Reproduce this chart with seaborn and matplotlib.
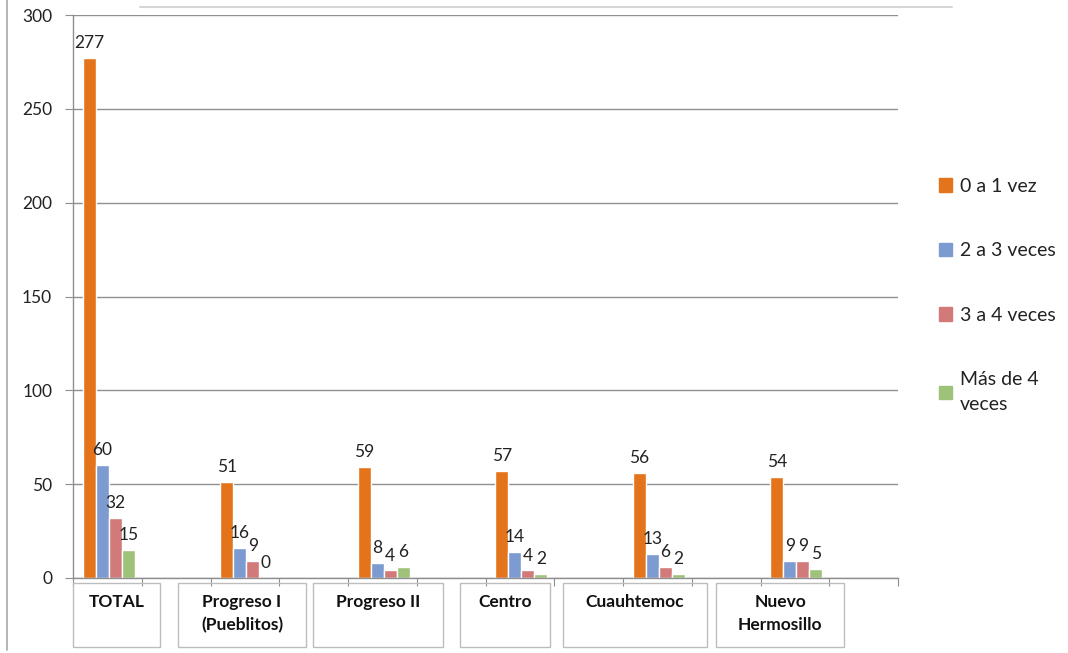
import numpy as np
import pandas as pd
import seaborn as sns
from matplotlib import pyplot as plt
from matplotlib.patches import Rectangle
from matplotlib.lines import Line2D

categories = ["TOTAL", "Progreso I\n(Pueblitos)", "Progreso II", "Centro",
              "Cuauhtemoc", "Nuevo\nHermosillo"]
series = ["0 a 1 vez", "2 a 3 veces", "3 a 4 veces", "Más de 4\nveces"]
v_0a1 = [277, 51, 59, 57, 56, 54]
v_2a3 = [60, 16, 8, 14, 13, 9]
v_3a4 = [32, 9, 4, 4, 6, 9]
v_mas4 = [15, 0, 6, 2, 2, 5]
colors = ["#E3741C", "#7C9BD0", "#D27A7A", "#9FC27A"]

rows = []
for s, vals in zip(series, [v_0a1, v_2a3, v_3a4, v_mas4]):
    for c, v in zip(categories, vals):
        rows.append({"cat": c, "serie": s, "valor": v})
df = pd.DataFrame(rows)

sns.set_style("white")
plt.rcParams['font.family'] = ['Lato', 'DejaVu Sans']

W, H = 1068, 653
fig = plt.figure(figsize=(W / 100, H / 100), dpi=100)
ax = fig.add_axes([73 / W, 1 - 578 / H, (898 - 73) / W, (578 - 15) / H])

sns.barplot(data=df, x="cat", y="valor", hue="serie", order=categories,
            hue_order=series, palette=colors, width=0.38, saturation=1,
            ax=ax, legend=False)

for cont in ax.containers:
    ax.bar_label(cont, fontsize=12.5, padding=5, color="#222222")

ax.set_ylim(0, 300)
ax.set_yticks(range(0, 301, 50))
ax.set_xlim(-0.26, 5.74)
ax.set_xticks(np.arange(-0.26, 5.75, 0.5))
ax.set_xticklabels([])
ax.yaxis.grid(True, color="#8f8f8f", lw=1)
ax.set_axisbelow(True)
ax.tick_params(axis="y", labelsize=12.5, length=6, color="#8f8f8f",
               left=True, pad=9, labelcolor="#222222")
ax.tick_params(axis="x", length=6, color="#8f8f8f", bottom=True)
ax.set_xlabel("")
ax.set_ylabel("")
for side in ["top", "right"]:
    ax.spines[side].set_visible(False)
for side in ["left", "bottom"]:
    ax.spines[side].set_color("#8f8f8f")
    ax.spines[side].set_linewidth(1)

# legend
handles = [Rectangle((0, 0), 1, 1, color=c) for c in colors]
leg = fig.legend(handles, series, loc="upper left",
                 bbox_to_anchor=(921 / W, 1 - 160 / H), frameon=False,
                 fontsize=14, handlelength=0.7, handleheight=0.7,
                 handletextpad=0.4, labelspacing=2.45)
for t in leg.get_texts():
    t.set_linespacing(1.55)
    t.set_color("#222222")

# category label boxes
boxes = [(73, 160), (178, 306), (313, 443), (460, 550), (563, 707), (716, 844)]
for (x0, x1), lab in zip(boxes, categories):
    fig.add_artist(Rectangle((x0 / W, 1 - 647 / H), (x1 - x0) / W, 64 / H,
                             transform=fig.transFigure, fill=False,
                             edgecolor="#bdbdbd", lw=1))
    fig.text((x0 + x1) / 2 / W, 1 - 594 / H, lab, ha="center", va="top",
             fontsize=12.5, fontweight="bold", linespacing=1.55,
             color="#111111")

# frame remnants from the screenshot
fig.add_artist(Line2D([140 / W, 952 / W], [1 - 7 / H, 1 - 7 / H],
                      transform=fig.transFigure, color="#d6d6d6", lw=1.5))
fig.add_artist(Line2D([7 / W, 7 / W], [1 - 0 / H, 1 - 650 / H],
                      transform=fig.transFigure, color="#a8a8a8", lw=1.2))

fig.savefig("out.png", dpi=100)
